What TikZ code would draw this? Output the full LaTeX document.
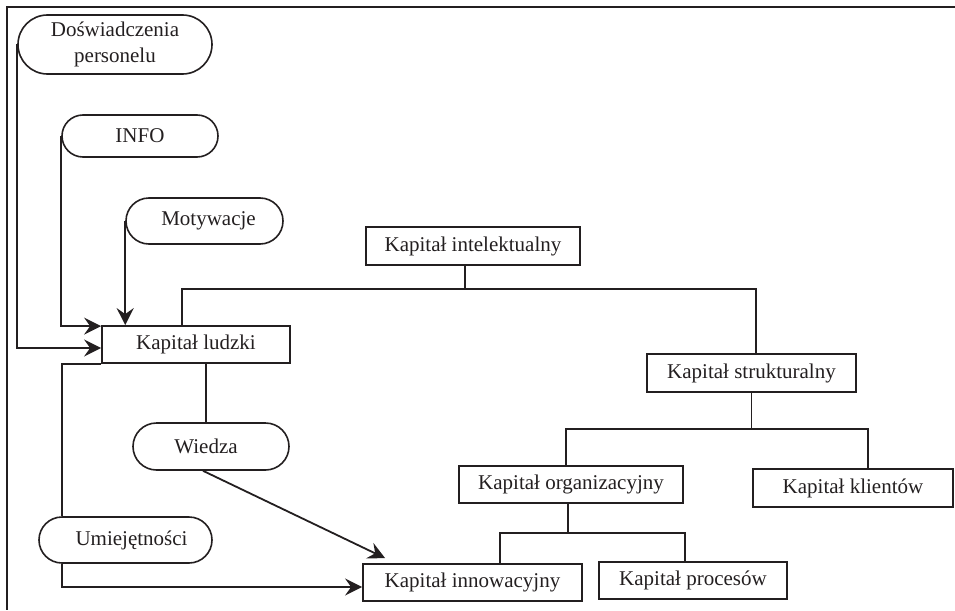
\documentclass[tikz,border=0pt]{standalone}
\usepackage{fontspec}
\setmainfont{Liberation Serif}
\usetikzlibrary{arrows.meta,shapes.misc}
\definecolor{ink}{RGB}{35,31,32}
\begin{document}
\begin{tikzpicture}[x=1pt,y=-1pt,
  every node/.style={font=\fontsize{21}{26}\selectfont, text=ink},
  boxnode/.style={draw=ink, line width=1.8pt, rectangle, inner sep=0pt},
  pill/.style={draw=ink, line width=1.6pt, rounded rectangle, inner sep=0pt, align=center},
  link/.style={draw=ink, line width=1.2pt},
  arr/.style={draw=ink, line width=1.8pt, -{Stealth[length=17pt,width=17pt,inset=6pt]}}]
\useasboundingbox (0,0) rectangle (955,610);
% frame
\draw[ink, line width=1.4pt] (955,7) -- (7,7) -- (7,610);
% nodes
\node[pill, minimum width=194pt, minimum height=59pt] (dosw) at (115,44.5) {Doświadczenia\\personelu};
\node[pill, minimum width=156pt, minimum height=42pt] (info) at (140,136) {INFO};
\node[pill, minimum width=157pt, minimum height=46pt] (moty) at (204.5,221) {\hspace*{8pt}Motywacje};
\node[pill, minimum width=156pt, minimum height=47pt] (wiedza) at (211,446.5) {Wiedza\hspace*{10pt}};
\node[pill, minimum width=173pt, minimum height=46pt] (umiej) at (125.5,540) {\hspace*{12pt}Umiejętności};
\node[boxnode, minimum width=188pt, minimum height=37pt] (ludzki) at (196,344.5) {Kapitał ludzki};
\node[boxnode, minimum width=214pt, minimum height=38pt] (intel) at (473,246) {Kapitał intelektualny};
\node[boxnode, minimum width=209pt, minimum height=38pt] (struk) at (751.5,373) {Kapitał strukturalny};
\node[boxnode, minimum width=224pt, minimum height=37pt] (org) at (571,484.5) {Kapitał organizacyjny};
\node[boxnode, minimum width=200pt, minimum height=38pt] (klient) at (853,488) {Kapitał klientów};
\node[boxnode, minimum width=219pt, minimum height=37pt] (innow) at (472.5,582.5) {Kapitał innowacyjny};
\node[boxnode, minimum width=188pt, minimum height=37pt] (proc) at (693,580.5) {Kapitał procesów};
% coordinates
\coordinate (barL) at (182,289);
\coordinate (barI) at (465,289);
\coordinate (barR) at (756,289);
\coordinate (sbar) at (751,429);
\coordinate (obar) at (568,533);
\coordinate (wx) at (206,0);
% inputs to Kapitał ludzki
\draw[arr] (dosw.west) |- ([yshift=-3.5pt]ludzki.west);
\draw[arr] (info.west) |- ([yshift=-1pt]ludzki.north west);
\draw[arr] (moty.west) -- (moty.west |- ludzki.north);
% intellectual capital tree
\draw[link] ([xshift=-14pt]ludzki.north) |- (barL) -- (barR) -- (barR |- struk.north);
\draw[link] (barI |- intel.south) -- (barI);
\draw[link] (struk.south) -- (struk.south |- sbar);
\draw[link] ([xshift=-5pt]org.north) |- (sbar) -| ([xshift=15pt]klient.north);
\draw[link] ([xshift=-3pt]org.south) -- (obar);
\draw[link] ([xshift=27.5pt]innow.north) |- (obar) -| ([xshift=-8pt]proc.north);
% human capital components
\draw[link] (wx |- ludzki.south) -- (wx |- wiedza.north);
\draw[link] (ludzki.south west) -| ([xshift=-63.5pt]umiej.north);
\draw[arr] ([xshift=-8pt]wiedza.south) -- ([xshift=23pt,yshift=5pt]innow.north west);
\draw[arr] ([xshift=-63.5pt]umiej.south) |- ([yshift=-4.5pt]innow.west);
\end{tikzpicture}
\end{document}
